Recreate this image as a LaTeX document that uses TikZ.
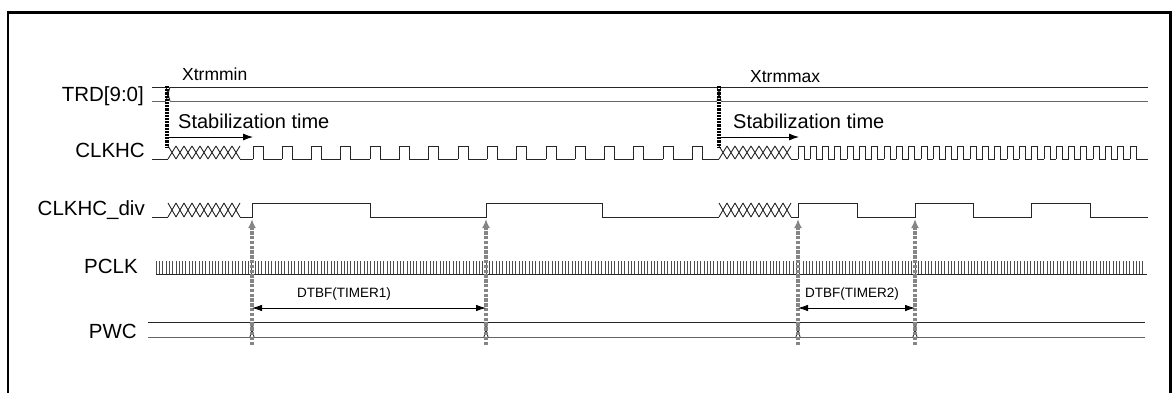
\documentclass[tikz,border=0pt]{standalone}
\usepackage{fontspec}
\setmainfont{Liberation Sans}
\usetikzlibrary{arrows.meta}
\newcommand\xzone[4]{% start x, count, y1, y2
  \foreach \i in {1,...,#2}{\draw[sig] ({#1+8*(\i-1)},#3) -- ({#1+8*\i},#4) ({#1+8*(\i-1)},#4) -- ({#1+8*\i},#3);}}
\newcommand\bustr[3]{% x, top, bottom
  \draw[sig] ({#1-2},#2) -- ({#1+2},#3);
  \draw[sig] ({#1-2},#3) -- ({#1+2},#2);}
\begin{document}
\begin{tikzpicture}[x=1pt,y=-1pt,
  sig/.style={line width=0.9pt, black!85},
  buslo/.style={line width=0.9pt, black!60},
  tick/.style={line width=0.55pt, black!70},
  lbl/.style={anchor=base east, inner sep=0pt, font=\fontsize{20.5}{24}\selectfont},
  txt/.style={anchor=base west, inner sep=0pt, font=\fontsize{20}{24}\selectfont},
  xtr/.style={anchor=base west, inner sep=0pt, font=\fontsize{17.5}{20}\selectfont},
  dtbf/.style={anchor=base west, inner sep=0pt, font=\fontsize{13.5}{16}\selectfont},
  blkdot/.style={line width=3.2pt, black, dash pattern=on 2.2pt off 1pt},
  stab/.style={line width=0.9pt, black, -{Latex[length=10pt,width=7pt]}},
  gr/.style={line width=3.4pt, black!48, dash pattern=on 3.5pt off 1.3pt, -{Latex[length=9pt,width=8pt]}},
  dim/.style={line width=0.8pt, black, {Latex[length=10pt,width=6.5pt]}-{Latex[length=10pt,width=6.5pt]}}]
\useasboundingbox (0,0) rectangle (1176,392);
% frame
\draw[line width=2.8pt] (8,394) -- (8,12.5) -- (1170.7,12.5) -- (1170.7,394);
% labels
\node[lbl] (lTRD) at (144,101) {TRD[9:0]};
\node[lbl] (lCLK) at (145,157) {CLKHC};
\node[lbl] (lDIV) at (145,215) {CLKHC\_div};
\node[lbl] (lPCLK) at (138,273) {PCLK};
\node[lbl] (lPWC) at (137,338) {PWC};
\node[xtr] (xmin) at (182,80) {Xtrmmin};
\node[xtr] (xmax) at (750,82) {Xtrmmax};
\node[txt] (st1) at (178,128) {Stabilization time};
\node[txt] (st2) at (733,128) {Stabilization time};
\node[dtbf] (d1) at (297,297) {DTBF(TIMER1)};
\node[dtbf] (d2) at (805,297) {DTBF(TIMER2)};
% TRD bus
\draw[sig] (152,87) -- (166,87) (170,87) -- (717,87) (721,87) -- (1148,87);
\draw[buslo] (152,101) -- (166,101) (170,101) -- (717,101) (721,101) -- (1148,101);
\bustr{168}{87}{101}
\bustr{719}{87}{101}
% CLKHC
\draw[sig] (152,159) -- (168,159);
\xzone{168}{9}{159}{146}
\draw[sig] (240,159) -- (253,159);
\foreach \k in {0,...,14}{
  \pgfmathsetmacro\r{253+29.3*\k}
  \draw[sig] (\r,159) -- (\r,146) -- (\r+10,146) -- (\r+10,159) -- (\r+29.3,159);}
\draw[sig] (692.5,159) -- (692.5,146) -- (702.5,146) -- (702.5,159) -- (719,159);
\xzone{719}{9}{159}{146}
\draw[sig] (791,159) -- (798,159);
\foreach \k in {0,...,26}{
  \pgfmathsetmacro\r{798+12.3*\k}
  \draw[sig] (\r,159) -- (\r,146) -- (\r+6,146) -- (\r+6,159) -- (\r+12.3,159);}
\draw[sig] (1130.1,159) -- (1130.1,146) -- (1136.1,146) -- (1136.1,159) -- (1148,159);
% CLKHC_div
\draw[sig] (152,217) -- (168,217);
\xzone{168}{9}{217}{203}
\draw[sig] (240,217) -- (252,217) -- (252,203) -- (370,203) -- (370,217) -- (486,217) -- (486,203) -- (602,203) -- (602,217) -- (719,217);
\xzone{719}{9}{217}{203}
\draw[sig] (791,217) -- (798,217) -- (798,203) -- (857,203) -- (857,217) -- (915,217) -- (915,203) -- (973,203) -- (973,217) -- (1031,217) -- (1031,203) -- (1090,203) -- (1090,217) -- (1148,217);
% PCLK
\draw[tick] \foreach \i in {0,...,299}{ ({156+3.3*\i},261) -- ++(0,13) };
\draw[sig] (156,274) -- (1147,274);
% PWC bus
\draw[sig] (148,322) -- (250,322) (254,322) -- (484,322) (488,322) -- (796,322) (800,322) -- (913,322) (917,322) -- (1145,322);
\draw[buslo] (148,337) -- (250,337) (254,337) -- (484,337) (488,337) -- (796,337) (800,337) -- (913,337) (917,337) -- (1145,337);
\bustr{252}{322}{337}
\bustr{486}{322}{337}
\bustr{798}{322}{337}
\bustr{915}{322}{337}
% coordinates
\coordinate (t1a) at (167,86); \coordinate (t1b) at (167,147);
\coordinate (t2a) at (719,86); \coordinate (t2b) at (719,147);
\coordinate (s1a) at (167,137); \coordinate (s1b) at (253,137);
\coordinate (s2a) at (719,137); \coordinate (s2b) at (799,137);
\foreach \n/\x in {1/252,2/486,3/798,4/915}{
  \coordinate (g\n b) at (\x,345); \coordinate (g\n t) at (\x,219);}
\coordinate (m1a) at (252,308); \coordinate (m1b) at (486,308);
\coordinate (m2a) at (798,308); \coordinate (m2b) at (915,308);
% dotted markers
\draw[blkdot] (t1a) -- (t1b);
\draw[blkdot] (t2a) -- (t2b);
\draw[stab] (s1a) -- (s1b);
\draw[stab] (s2a) -- (s2b);
% gray arrows
\foreach \n in {1,2,3,4}{\draw[gr] (g\n b) -- (g\n t);}
% DTBF arrows
\draw[dim] (m1a) -- (m1b);
\draw[dim] (m2a) -- (m2b);
\end{tikzpicture}
\end{document}
